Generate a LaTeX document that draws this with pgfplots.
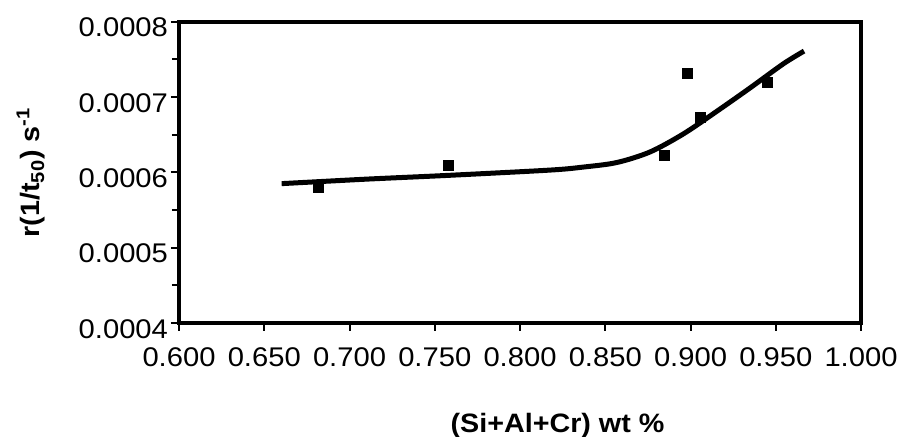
\documentclass[border=0pt]{standalone}
\usepackage{fontspec}
\setmainfont{Liberation Sans}[FakeStretch=1.08]
\usepackage{pgfplots}
\pgfplotsset{compat=1.18}
\begin{document}
\begin{tikzpicture}
\begin{axis}[
  scale only axis, width=341pt, height=150.65pt,
  xmin=0.6, xmax=1.0, ymin=0.0004, ymax=0.0008,
  xtick={0.6,0.65,0.7,0.75,0.8,0.85,0.9,0.95,1.0},
  xticklabels={0.600,0.650,0.700,0.750,0.800,0.850,0.900,0.950,1.000},
  ytick={0.0004,0.0005,0.0006,0.0007,0.0008},
  yticklabels={0.0004,0.0005,0.0006,0.0007,0.0008},
  scaled y ticks=false, scaled x ticks=false,
  minor y tick num=1,
  tick align=outside, xtick pos=lower, ytick pos=left,
  major tick length=4pt, minor tick length=3.5pt,
  axis line style={line width=2pt},
  every tick/.style={black, line width=1pt},
  tick label style={font=\fontsize{13.5}{15}\selectfont},
  yticklabel style={yshift=-3pt, xshift=2pt},
  xticklabel style={yshift=-5pt},
  xlabel={(Si+Al+Cr) wt \%},
  ylabel={r(1/t\textsubscript{50}) s\textsuperscript{-1}},
  xlabel style={at={(axis description cs:0.555,-0.342)}, anchor=center, font=\bfseries\fontsize{13.3}{15}\selectfont},
  ylabel style={at={(axis description cs:-0.217,0.5)}, anchor=center, font=\bfseries\fontsize{13.3}{15}\selectfont},
]
\addplot[black, line width=2.5pt, smooth, no markers] coordinates {
  (0.6602,0.000585) (0.7101,0.000591) (0.7580,0.000596) (0.8176,0.000603)
  (0.8371,0.000607) (0.8567,0.000613) (0.8762,0.000627) (0.8958,0.000651)
  (0.9154,0.000681) (0.9349,0.000712) (0.9544,0.000744) (0.9666,0.000761)
};
\addplot[only marks, mark=square*, mark size=2.5pt, black] coordinates {
  (0.682,0.000580) (0.758,0.000609) (0.8847,0.000623)
  (0.898,0.000732) (0.9056,0.000673) (0.945,0.000720)
};
\end{axis}
\pgfresetboundingbox
\path[use as bounding box] (current axis.south west) ++(-89.5pt,-57pt) rectangle ++(454.5pt,218.5pt);
\end{tikzpicture}
\end{document}
